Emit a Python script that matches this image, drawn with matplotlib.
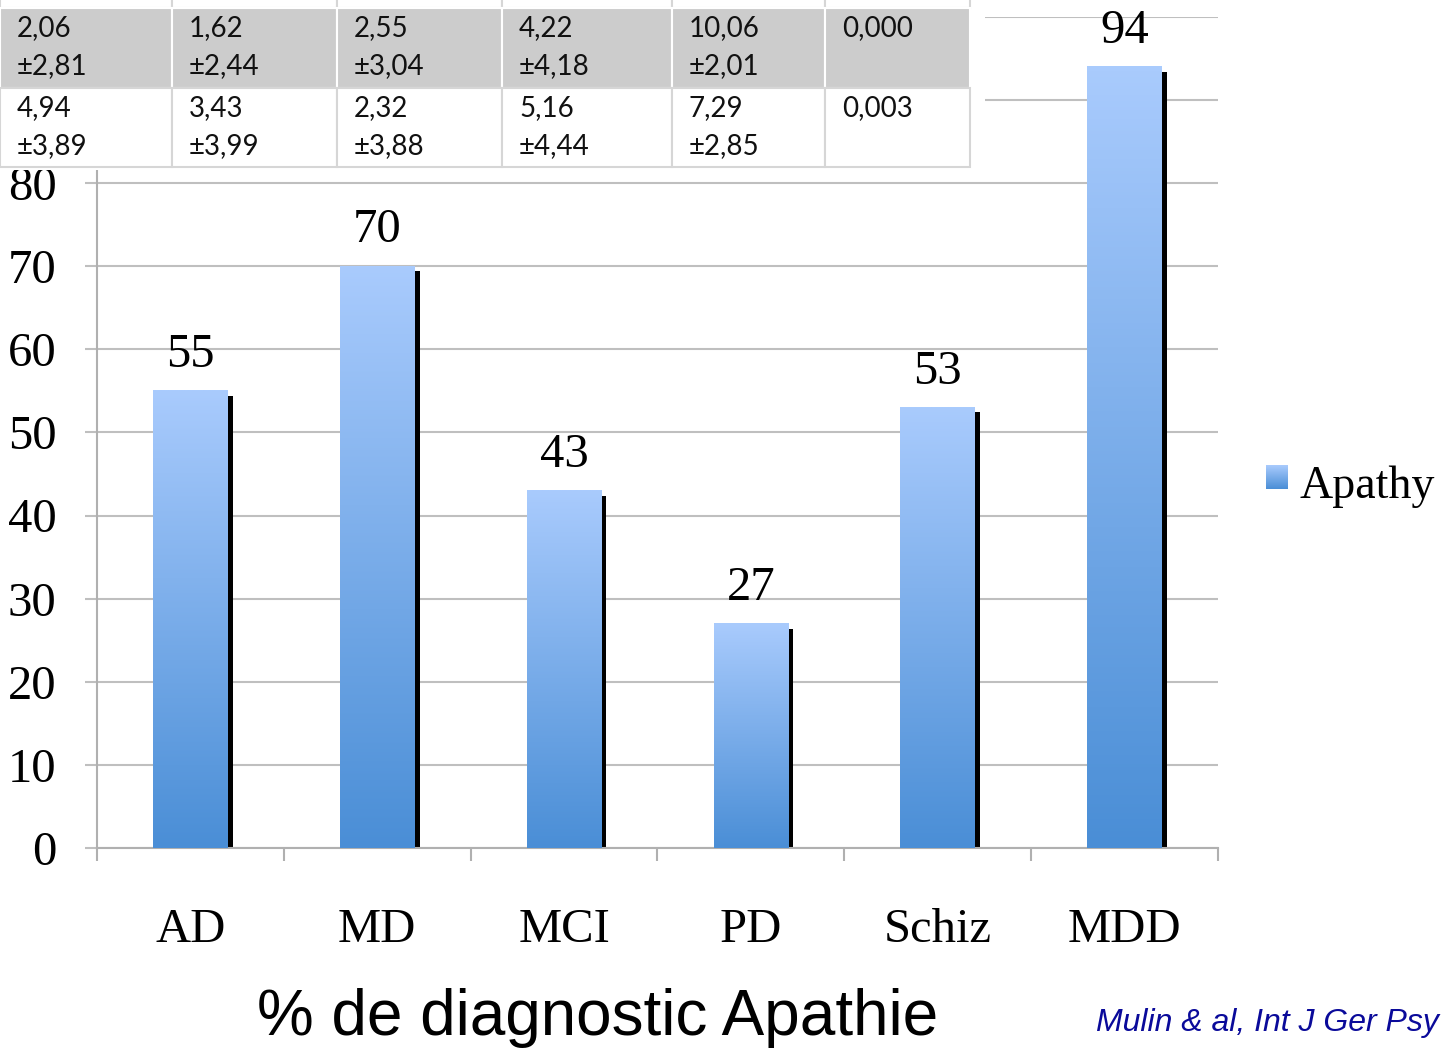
import numpy as np
import matplotlib
matplotlib.use("Agg")
import matplotlib.pyplot as plt
from matplotlib.colors import LinearSegmentedColormap
from matplotlib.patches import Rectangle

# ---- data ----
categories = ["AD", "MD", "MCI", "PD", "Schiz", "MDD"]
apathy_pct = [55, 70, 43, 27, 53, 94]
series_name = "Apathy"
y_ticks = [0, 10, 20, 30, 40, 50, 60, 70, 80]

# score table shown above the chart (mean, ±sd per group, then p-value)
row1_means = ["2,06", "1,62", "2,55", "4,22", "10,06"]
row1_sds = ["±2,81", "±2,44", "±3,04", "±4,18", "±2,01"]
row1_p = "0,000"
row2_means = ["4,94", "3,43", "2,32", "5,16", "7,29"]
row2_sds = ["±3,89", "±3,99", "±3,88", "±4,44", "±2,85"]
row2_p = "0,003"

W, H = 1441, 1050
fig = plt.figure(figsize=(W / 100, H / 100), dpi=100)
fig.patch.set_facecolor("white")

SERIF = "Liberation Serif"
SANS = "Liberation Sans"

ax = fig.add_axes([97 / W, 1 - 848 / H, (1218 - 97) / W, (848 - 16.75) / H])
ax.set_facecolor("none")

bar_top_col = "#a9cbfd"
bar_bot_col = "#4a8ed6"
cmap = LinearSegmentedColormap.from_list("bar", [bar_bot_col, bar_top_col])
grad = np.linspace(0, 1, 256).reshape(-1, 1)

bar_w = 0.40
x = np.arange(len(categories))
for xi, v in zip(x, apathy_pct):
    ax.imshow(grad, cmap=cmap, origin="lower", aspect="auto",
              extent=[xi - bar_w / 2, xi + bar_w / 2, 0, v], zorder=3,
              interpolation="bilinear")
    # dark shadow on the right edge of each bar
    ax.bar(xi + bar_w / 2 + 0.0135, v - 0.6, width=0.027, bottom=0,
           color="black", zorder=2.5, linewidth=0)
    ax.annotate(str(v), (xi, v), xytext=(0, 10), textcoords="offset points",
                ha="center", va="bottom", fontsize=35, family=SERIF,
                color="black", zorder=4)

ax.set_xlim(-0.5, len(categories) - 0.5)
ax.set_ylim(0, 100)

# grid
ax.set_yticks(np.arange(0, 101, 10))
ax.yaxis.grid(True, color="#bfbfbf", linewidth=1.5, zorder=0)
ax.set_axisbelow(True)
ax.set_yticklabels([str(t) if t in y_ticks else "" for t in range(0, 101, 10)],
                   fontsize=35, family=SERIF)
ax.tick_params(axis="y", length=9, width=1.5, color="#bfbfbf", pad=20)

# x ticks at category boundaries, labels centred below each bar
ax.set_xticks(np.arange(-0.5, len(categories), 1.0))
ax.set_xticklabels([])
ax.tick_params(axis="x", which="major", length=9, width=1.5, color="#b0b0b0")
ax.set_xticks(x, minor=True)
ax.set_xticklabels(categories, minor=True, fontsize=35, family=SERIF)
ax.tick_params(axis="x", which="minor", length=0, pad=43)

for s in ["top", "right"]:
    ax.spines[s].set_visible(False)
for s in ["left", "bottom"]:
    ax.spines[s].set_color("#b0b0b0")
    ax.spines[s].set_linewidth(1.5)

# overlay in pixel coordinates for the table, legend and captions
ov = fig.add_axes([0, 0, 1, 1], zorder=10)
ov.set_xlim(0, W)
ov.set_ylim(H, 0)
ov.axis("off")
ov.patch.set_visible(False)

# table block
ov.add_patch(Rectangle((0, 0), 985, 170, facecolor="white", edgecolor="none"))
col_edges = [0, 172, 337, 502, 672, 825, 970]
rows = [
    (row1_means + [row1_p], row1_sds + [""], "#cccccc", "white"),
    (row2_means + [row2_p], row2_sds + [""], "white", "#d6d6d6"),
]
row_edges = [8, 88, 167]
# partially visible header row
for c in range(6):
    ov.add_patch(Rectangle((col_edges[c], -20), col_edges[c + 1] - col_edges[c], 28,
                           facecolor="white", edgecolor="#d6d6d6", linewidth=1.5))
for r, (top_line, bot_line, fc, ec) in enumerate(rows):
    y0, y1 = row_edges[r], row_edges[r + 1]
    for c in range(6):
        x0, x1 = col_edges[c], col_edges[c + 1]
        ov.add_patch(Rectangle((x0, y0), x1 - x0, y1 - y0, facecolor=fc,
                               edgecolor=ec, linewidth=1.5))
        ov.text(x0 + 17, y0 + 20, top_line[c], fontsize=20, family="Lato",
                color="#111111", va="center", ha="left")
        ov.text(x0 + 17, y0 + 58, bot_line[c], fontsize=20, family="Lato",
                color="#111111", va="center", ha="left")

# legend
leg_ax = fig.add_axes([1266 / W, 1 - 489 / H, 22 / W, 24 / H], zorder=11)
leg_ax.imshow(grad, cmap=cmap, origin="lower", aspect="auto",
              interpolation="bilinear")
leg_ax.axis("off")
ov.text(1299, 487, series_name, fontsize=33, family=SERIF, va="center", ha="left")

# captions
ov.text(598, 1018, "% de diagnostic Apathie", fontsize=46, family=SANS,
        ha="center", va="center", color="black")
ov.text(1439, 1023, "Mulin & al, Int J Ger Psy", fontsize=23, family=SANS,
        style="italic", ha="right", va="center", color="#0a0a9a")

fig.savefig("out.png", dpi=100)
